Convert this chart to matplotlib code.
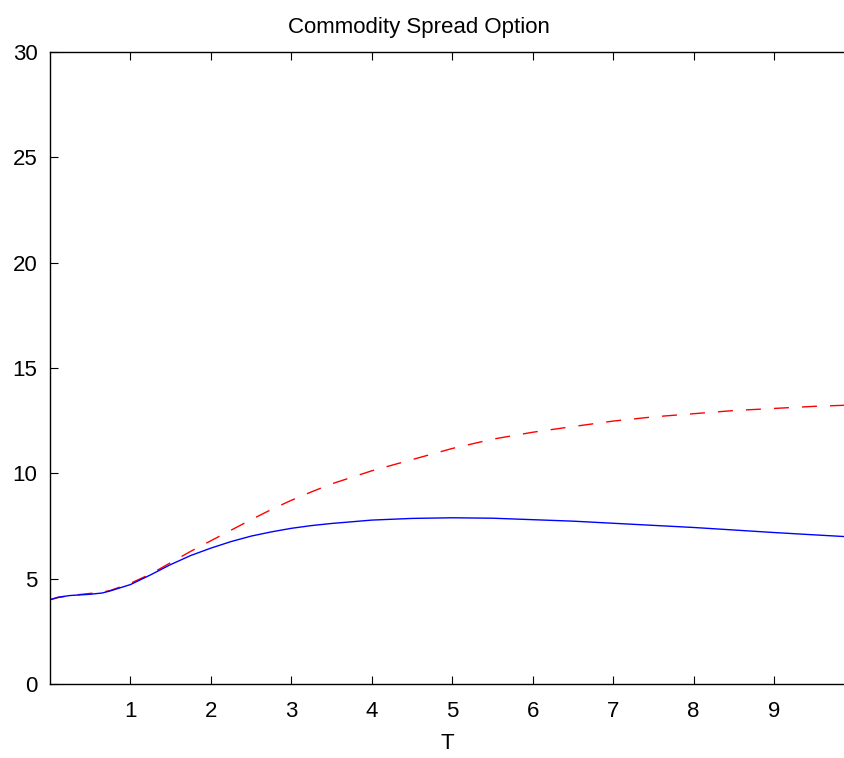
import matplotlib
matplotlib.use("Agg")
import matplotlib.pyplot as plt

# ── Data ───────────────────────────────────────────────
t_vals = [0.0, 0.1, 0.25, 0.5, 0.65, 0.75, 1.0, 1.25, 1.5, 1.75, 2.0, 2.25,
          2.5, 2.75, 3.0, 3.25, 3.5, 4.0, 4.5, 5.0, 5.5, 6.0, 6.5, 7.0, 7.5,
          8.0, 8.5, 9.0, 9.5, 9.87]

blue_vals = [4.00, 4.12, 4.20, 4.26, 4.32, 4.42, 4.72, 5.18, 5.67, 6.10, 6.45,
             6.76, 7.02, 7.22, 7.39, 7.52, 7.62, 7.78, 7.86, 7.89, 7.87, 7.80,
             7.73, 7.63, 7.53, 7.43, 7.31, 7.19, 7.08, 7.00]

red_vals = [4.00, 4.10, 4.20, 4.30, 4.36, 4.44, 4.78, 5.22, 5.76, 6.30, 6.80,
            7.30, 7.80, 8.28, 8.72, 9.12, 9.50, 10.12, 10.65, 11.18, 11.62,
            11.95, 12.22, 12.48, 12.68, 12.83, 12.98, 13.08, 13.18, 13.23]

x_ticks = [1, 2, 3, 4, 5, 6, 7, 8, 9]
y_ticks = [0, 5, 10, 15, 20, 25, 30]

# ── Style ──────────────────────────────────────────────
plt.rcParams["font.family"] = ["Liberation Sans", "DejaVu Sans"]
plt.rcParams["lines.scale_dashes"] = False

fig = plt.figure(figsize=(8.44, 7.58), dpi=100)
ax = fig.add_axes([50 / 844, 74 / 758, 1 - 50 / 844, 632 / 758])

ax.plot(t_vals, red_vals, color="#ff0000", lw=1.0, dashes=(10.8, 9.4))
ax.plot(t_vals, blue_vals, color="#0000ff", lw=1.0)

ax.set_xlim(0, 9.87)
ax.set_ylim(0, 30)
ax.set_xticks(x_ticks)
ax.set_yticks(y_ticks)

ax.tick_params(axis="x", direction="in", length=5.5, width=0.8,
               labelsize=16, pad=12.5, top=True)
ax.tick_params(axis="y", direction="in", length=5.5, width=0.8,
               labelsize=16, pad=9, right=False)

ax.spines["right"].set_visible(False)
for s in ["left", "bottom", "top"]:
    ax.spines[s].set_linewidth(1.0)

ax.set_xlabel("T", fontsize=16, labelpad=8)
fig.text(419 / 844, 1 - 27 / 758, "Commodity Spread Option",
         ha="center", va="center", fontsize=16)

fig.savefig("out.png", dpi=100)
